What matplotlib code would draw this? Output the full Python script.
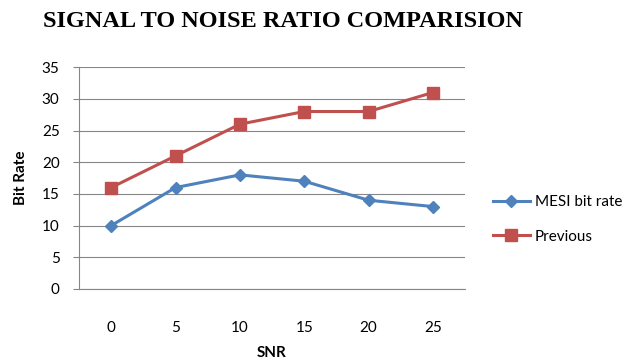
import matplotlib
matplotlib.use("Agg")
import matplotlib.pyplot as plt

snr = ["0", "5", "10", "15", "20", "25"]
mesi = [10, 16, 18, 17, 14, 13]
previous = [16, 21, 26, 28, 28, 31]

plt.rcParams['font.family'] = ['Lato', 'DejaVu Sans']

fig = plt.figure(figsize=(6.32, 3.63), dpi=100)
ax = fig.add_axes([0.125, 0.204, 0.611, 0.611])

x = range(len(snr))
ax.plot(x, mesi, color='#4F81BD', lw=2.2, marker='D', ms=6, label='MESI bit rate')
ax.plot(x, previous, color='#C0504D', lw=2.2, marker='s', ms=8, label='Previous')

ax.set_xlim(-0.5, len(snr) - 0.5)
ax.set_ylim(0, 35)
ax.set_yticks(range(0, 36, 5))
ax.set_xticks(list(x))
ax.set_xticklabels(snr)
ax.tick_params(axis='x', length=0, pad=23, labelsize=11)
ax.tick_params(axis='y', length=4, color='#868686', pad=10, labelsize=11)
ax.grid(axis='y', color='#868686', lw=0.8)
ax.set_axisbelow(True)
for s in ['top', 'right']:
    ax.spines[s].set_visible(False)
for s in ['left', 'bottom']:
    ax.spines[s].set_color('#868686')

ax.set_ylabel('Bit Rate', fontsize=11, fontweight='bold', labelpad=10)
ax.set_xlabel('SNR', fontsize=11, fontweight='bold', labelpad=8)

fig.text(0.448, 0.94, 'SIGNAL TO NOISE RATIO COMPARISION', ha='center', va='center',
         fontsize=17.5, fontweight='bold', family='Liberation Serif')

fig.legend(loc='center left', bbox_to_anchor=(0.78, 0.396), frameon=False,
           fontsize=11, labelspacing=1.35, handlelength=2.4, handletextpad=0.35,
           borderaxespad=0, borderpad=0)

fig.savefig('out.png', dpi=100)
